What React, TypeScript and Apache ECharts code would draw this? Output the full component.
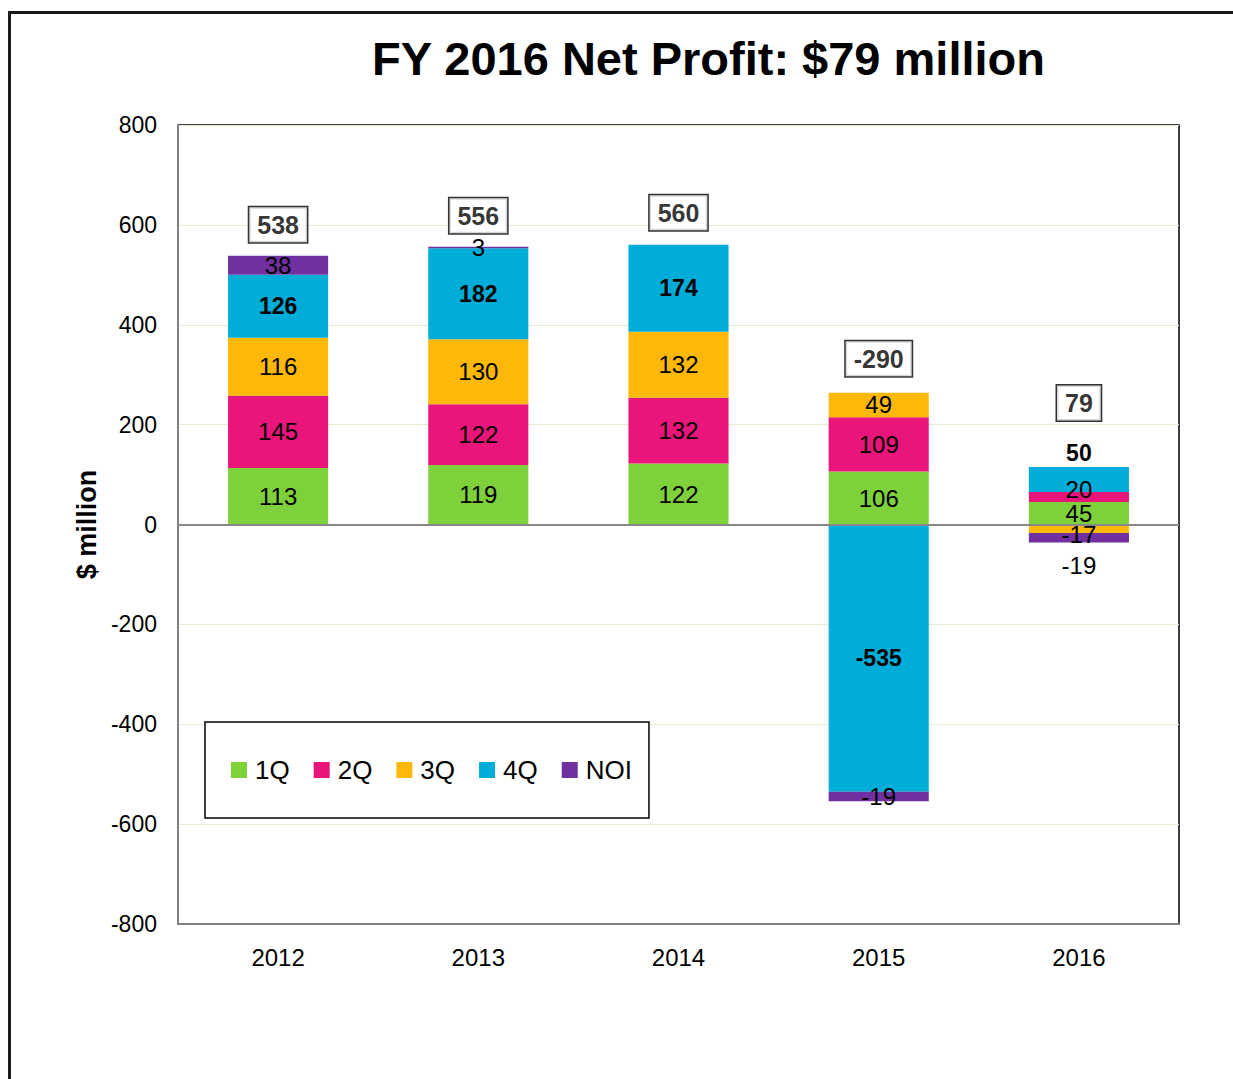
import React, { useEffect, useRef } from "react";
import * as echarts from "echarts";

const years = ["2012", "2013", "2014", "2015", "2016"];
const q1 = [113, 119, 122, 106, 45];
const q2 = [145, 122, 132, 109, 20];
const q3 = [116, 130, 132, 49, -17];
const q4 = [126, 182, 174, -535, 50];
const noi = [38, 3, 0, -19, -19];
const yTicks = { min: -800, max: 800, interval: 200 };

const seriesDefs = [
  { name: "1Q", data: q1, color: "#7fd13b", bold: false },
  { name: "2Q", data: q2, color: "#ea157a", bold: false },
  { name: "3Q", data: q3, color: "#feb80a", bold: false },
  { name: "4Q", data: q4, color: "#00add8", bold: true },
  { name: "NOI", data: noi, color: "#7030a0", bold: false },
];

// label tweaks for crowded 2016 bar (index 4)
const labelTweaks: Record<string, Record<number, any>> = {
  "2Q": { 4: { offset: [0, -8] } },
  "3Q": { 4: { offset: [0, 6] } },
  "4Q": { 4: { position: "top", distance: 3 } },
  NOI: { 4: { position: "bottom", distance: 11 } },
};
const totalLabelDistance = [13, 13, 14, 16, 46];

const FONT = "'Liberation Sans', Arial, Helvetica, sans-serif";

export default function App() {
  const ref = useRef<HTMLDivElement>(null);
  useEffect(() => {
    if (!ref.current) return;
    const chart = echarts.init(ref.current, undefined, { renderer: "svg" });

    const barSeries = seriesDefs.map((s, si) => ({
      name: s.name,
      type: "bar",
      stack: "total",
      barWidth: "50%",
      itemStyle: { color: s.color },
      label: {
        show: true,
        position: "inside",
        color: "#000",
        fontSize: s.bold ? 23 : 24,
        fontWeight: s.bold ? "bold" : "normal",
        fontFamily: FONT,
        formatter: (p: any) => (p.value === 0 ? "" : String(p.value)),
      },
      data: s.data.map((v, i) => {
        const t = labelTweaks[s.name] && labelTweaks[s.name][i];
        return t ? { value: v, label: t } : v;
      }),
      ...(si === 0
        ? {
            markLine: {
              silent: true,
              symbol: "none",
              label: { show: false },
              lineStyle: { color: "#888", width: 2, type: "solid" },
              data: [{ yAxis: 0 }],
            },
          }
        : {}),
    }));

    const totals = years.map((_, i) =>
      seriesDefs.reduce((acc, s) => acc + s.data[i], 0)
    );
    const posSums = years.map((_, i) =>
      seriesDefs.reduce((acc, s) => acc + Math.max(0, s.data[i]), 0)
    );

    const totalSeries = {
      name: "Total",
      type: "scatter",
      symbolSize: 1,
      itemStyle: { color: "rgba(0,0,0,0)" },
      z: 5,
      label: {
        show: true,
        position: "top",
        color: "#000",
        fontSize: 25,
        fontWeight: "bold",
        fontFamily: FONT,
        lineHeight: 25,
        backgroundColor: "#fff",
        borderColor: "#000",
        borderWidth: 1.5,
        padding: [5, 8, 5, 8],
        formatter: (p: any) => String(p.value[2]),
      },
      data: years.map((_, i) => ({
        value: [i, posSums[i], totals[i]],
        label: { distance: totalLabelDistance[i] },
      })),
    };

    chart.setOption({
      animation: false,
      textStyle: { fontFamily: FONT },
      title: {
        text: "FY 2016 Net Profit: $79 million",
        left: 372,
        top: 35,
        padding: 0,
        textStyle: { fontSize: 47, fontWeight: "bold", color: "#000", fontFamily: FONT },
      },
      legend: {
        data: seriesDefs.map((s) => s.name),
        left: 205,
        top: 722,
        orient: "horizontal",
        padding: [35, 17, 35, 26],
        borderColor: "#000",
        borderWidth: 1.5,
        backgroundColor: "#fff",
        itemWidth: 16,
        itemHeight: 16,
        itemGap: 24,
        icon: "rect",
        textStyle: { fontSize: 26, color: "#000", fontFamily: FONT, lineHeight: 26, padding: [0, 0, 0, 3] },
      },
      graphic: [
        {
          type: "rect",
          silent: true,
          shape: { x: 9.5, y: 12.5, width: 1400, height: 1200 },
          style: { fill: "none", stroke: "#1a1a1a", lineWidth: 3 },
          z: 100,
        },
      ],
      grid: {
        left: 178,
        right: 54,
        top: 125,
        bottom: 155,
        show: true,
        borderColor: "#000",
        borderWidth: 1.5,
        backgroundColor: "#fff",
      },
      xAxis: {
        type: "category",
        data: years,
        axisLine: { onZero: false, lineStyle: { color: "#808080", width: 2 } },
        axisTick: { show: false },
        axisLabel: { fontSize: 24, color: "#000", margin: 21, fontFamily: FONT },
      },
      yAxis: {
        type: "value",
        min: yTicks.min,
        max: yTicks.max,
        interval: yTicks.interval,
        name: "$ million",
        nameLocation: "middle",
        nameGap: 74,
        nameTextStyle: { fontSize: 27, fontWeight: "bold", color: "#000", fontFamily: FONT },
        axisLine: { show: true, lineStyle: { color: "#808080", width: 2 } },
        axisTick: { show: false },
        axisLabel: { fontSize: 23, color: "#000", margin: 21, fontFamily: FONT },
        splitLine: { show: true, lineStyle: { color: "#efe6cf", width: 1 } },
      },
      series: [...barSeries, totalSeries],
    });
    return () => chart.dispose();
  }, []);
  return (
    <div
      ref={ref}
      style={{ position: "fixed", left: 0, top: 0, width: 1233, height: 1079, background: "#fff" }}
    />
  );
}
